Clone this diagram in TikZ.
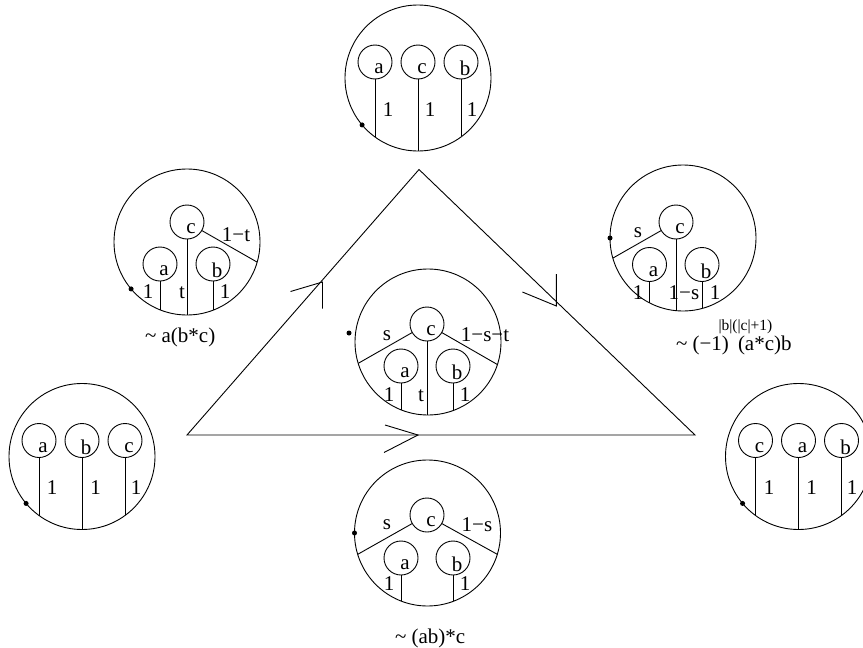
\documentclass[tikz,border=0pt]{standalone}
\usepackage{fontspec}
\setmainfont{Liberation Serif}
\usetikzlibrary{calc}
\begin{document}
\begin{tikzpicture}[x=1pt,y=-1pt,line width=0.9pt,line join=miter,
  outer/.style={circle,draw,minimum size=146pt,inner sep=0pt,outer sep=0pt},
  lbl/.style={inner sep=0pt,outer sep=0pt,font=\fontsize{21}{25}\selectfont},
  suptext/.style={inner sep=0pt,outer sep=0pt,font=\fontsize{15.5}{18}\selectfont},
  leaf/.style={circle,draw,minimum size=34pt,inner sep=0pt,outer sep=0pt,
    label={[lbl,anchor=base,xshift=4pt,yshift=-6.7pt]center:#1}}]
\clip (0,0) rectangle (863,648);

% ---------- top circle ----------
\node[outer] (T) at (418,78) {};
\node[leaf=a] (Ta) at (375,62) {};
\node[leaf=c] (Tc) at (418,62) {};
\node[leaf=b] (Tb) at (461,62) {};
\draw (Ta.south) -- (Ta.south |- T.-126.1);
\draw (Tc.south) -- (T.south);
\draw (Tb.south) -- (Tb.south |- T.-53.9);
\node[lbl] (T1) at (388,110) {1};
\node[lbl] (T2) at (430,110) {1};
\node[lbl] (T3) at (472,110) {1};
\fill (T.220) circle[radius=2.5pt];

% ---------- left circle ----------
\node[outer] (L) at (82,456.5) {};
\node[leaf=a] (La) at (39,440.5) {};
\node[leaf=b] (Lb) at (82,440.5) {};
\node[leaf=c] (Lc) at (125,440.5) {};
\draw (La.south) -- (La.south |- L.-126.1);
\draw (Lb.south) -- (L.south);
\draw (Lc.south) -- (Lc.south |- L.-53.9);
\node[lbl] (L1) at (52,488) {1};
\node[lbl] (L2) at (95.5,488) {1};
\node[lbl] (L3) at (136,488) {1};
\fill (L.220) circle[radius=2.5pt];

% ---------- right circle ----------
\node[outer] (R) at (798.5,456.5) {};
\node[leaf=c] (Rc) at (755.5,440.5) {};
\node[leaf=a] (Ra) at (798.5,440.5) {};
\node[leaf=b] (Rb) at (841.5,440.5) {};
\draw (Rc.south) -- (Rc.south |- R.-126.1);
\draw (Ra.south) -- (R.south);
\draw (Rb.south) -- (Rb.south |- R.-53.9);
\node[lbl] (R1) at (769,488) {1};
\node[lbl] (R2) at (811.5,488) {1};
\node[lbl] (R3) at (852,488) {1};
\fill (R.220) circle[radius=2.5pt];

% ---------- top-left circle ----------
\node[outer] (TL) at (187,242) {};
\node[leaf=c] (TLc) at (187,222) {};
\node[leaf=a] (TLa) at (160,264) {};
\node[leaf=b] (TLb) at (213,264) {};
\draw (TLc.south) -- (TL.south);
\draw (TLa.south) -- (TLa.south |- TL.-111.7);
\draw (TLb.south) -- (TLb.south |- TL.-69.1);
\draw (TLc.-30) -- (TL.-16.3);
\node[lbl] (TL1) at (148,292) {1};
\node[lbl] (TL2) at (182,293) {t};
\node[lbl] (TL3) at (225,292) {1};
\node[lbl] (TL4) at (236,235) {1−t};
\fill (TL.220) circle[radius=2.5pt];
\node[lbl,anchor=base west] (capTL) at (145,342) {\textasciitilde{} a(b*c)};

% ---------- top-right circle ----------
\node[outer] (TR) at (683,238) {};
\node[leaf=c] (TRc) at (676,222) {};
\node[leaf=a] (TRa) at (649.5,264.5) {};
\node[leaf=b] (TRb) at (702,264.5) {};
\draw (TRc.south) -- (TRc.south |- TR.-95.5);
\draw (TRa.south) -- (TRa.south |- TR.-117.3);
\draw (TRb.south) -- (TRb.south |- TR.-74.9);
\draw (TRc.210) -- (TR.196.2);
\node[lbl] (TR1) at (638,233) {s};
\node[lbl] (TR2) at (638,293) {1};
\node[lbl] (TR3) at (684,293) {1−s};
\node[lbl] (TR4) at (715,293) {1};
\fill (TR.180) circle[radius=2.5pt];
\node[lbl,anchor=base west] (capTRa) at (676,350) {\textasciitilde{} (−1)};
\node[suptext,anchor=base west] (capTRb) at (718.5,330) {|b|(|c|+1)};
\node[lbl,anchor=base west] (capTRc) at (738,350) {(a*c)b};

% ---------- central circle ----------
\node[outer] (C) at (428,342) {};
\node[leaf=c] (Cc) at (427,324) {};
\node[leaf=a] (Ca) at (401,366) {};
\node[leaf=b] (Cb) at (453,366) {};
\draw (Cc.south) -- (Cc.south |- C.-90.8);
\draw (Ca.south) -- (Ca.south |- C.-111.7);
\draw (Cb.south) -- (Cb.south |- C.-70.0);
\draw (Cc.210) -- (C.197.3);
\draw (Cc.-30) -- (C.-18.1);
\node[lbl] (C1) at (387,336) {s};
\node[lbl] (C2) at (485,335) {1−s−t};
\node[lbl] (C3) at (389,395) {1};
\node[lbl] (C4) at (421,396) {t};
\node[lbl] (C5) at (465,395) {1};
\coordinate (Cdot) at (349,333);
\fill (Cdot) circle[radius=2.5pt];

% ---------- bottom circle ----------
\node[outer] (B) at (427.5,533) {};
\node[leaf=c] (Bc) at (427,515) {};
\node[leaf=a] (Ba) at (401,558) {};
\node[leaf=b] (Bb) at (453,558) {};
\draw (Ba.south) -- (Ba.south |- B.-111.3);
\draw (Bb.south) -- (Bb.south |- B.-69.6);
\draw (Bc.210) -- (B.197.5);
\draw (Bc.-30) -- (B.-17.9);
\node[lbl] (B1) at (387,525) {s};
\node[lbl] (B2) at (477,525) {1−s};
\node[lbl] (B3) at (389,584) {1};
\node[lbl] (B4) at (465,584) {1};
\fill (B.180) circle[radius=2.5pt];
\node[lbl,anchor=base west] (capB) at (395,643) {\textasciitilde{} (ab)*c};

% ---------- triangle ----------
\coordinate (A) at (187,435);
\coordinate (Bv) at (419,169.5);
\coordinate (Cv) at (695,435);
\draw (A) -- (Bv) -- (Cv) -- cycle;
\coordinate (tipL) at (322.5,282);
\draw ($(tipL)+(-32,9.5)$) -- (tipL) -- ($(tipL)+(0,26.5)$);
\coordinate (tipR) at (556.4,306);
\draw ($(tipR)+(-34,-14)$) -- (tipR) -- ($(tipR)+(0,-32)$);
\coordinate (tipB) at (418,435);
\draw ($(tipB)+(-33,-10)$) -- (tipB) -- ($(tipB)+(-34,17.5)$);
\end{tikzpicture}
\end{document}
